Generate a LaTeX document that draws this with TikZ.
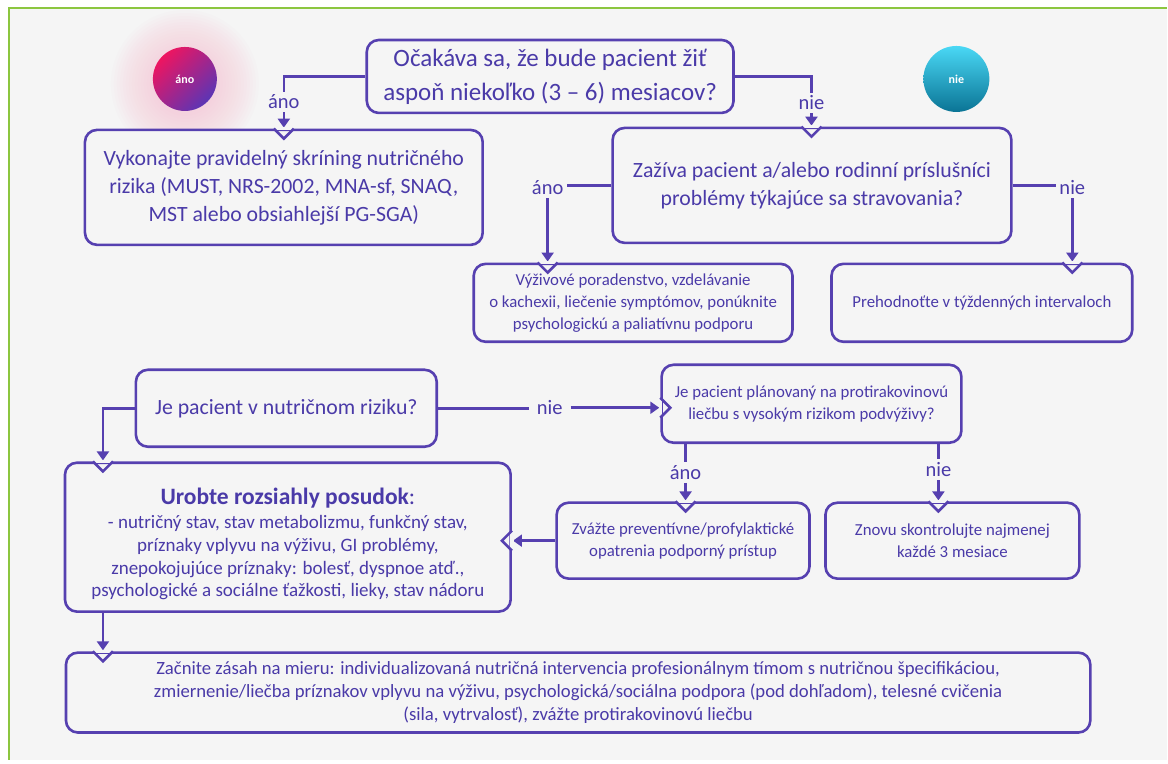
\documentclass[tikz,border=0pt]{standalone}
\usepackage{fontspec}
\setmainfont{Carlito}
\usetikzlibrary{arrows.meta,positioning}
\definecolor{lilac}{HTML}{5640B0}
\definecolor{ink}{HTML}{4A3AA8}
\definecolor{paper}{HTML}{F5F5F5}
\definecolor{frame}{HTML}{8CC63F}
\definecolor{pinkglow}{HTML}{F4B8CE}
\definecolor{anopink}{HTML}{EE1560}
\definecolor{anopurple}{HTML}{5B35B5}
\definecolor{nietop}{HTML}{4AD8F5}
\definecolor{niebot}{HTML}{0A7495}
\begin{document}
\begin{tikzpicture}[x=1pt, y=-1pt,
    box/.style={draw=lilac, line width=2.6pt, rounded corners=12pt, fill=paper,
      text=ink, align=center, inner sep=0pt},
    big/.style={font=\fontsize{25}{34}\selectfont},
    mid/.style={font=\fontsize{21.8}{28}\selectfont},
    small/.style={font=\fontsize{16.8}{22}\selectfont},
    lab/.style={text=ink, font=\fontsize{20.5}{22}\selectfont, fill=paper, inner sep=3pt},
    line/.style={draw=lilac, line width=2.6pt},
    arr/.style={line, -{Triangle[width=12pt,length=9pt]}, shorten >=1pt},
    notchdown/.pic={\fill[paper] (-9,-1.6) rectangle (9,1.6);
      \draw[line, line join=miter] (-10,0) -- (0,10) -- (10,0);},
    notchright/.pic={\fill[paper] (-1.6,-9) rectangle (1.6,9);
      \draw[line, line join=miter] (0,-10) -- (10,0) -- (0,10);},
    notchleft/.pic={\fill[paper] (-1.6,-9) rectangle (1.6,9);
      \draw[line, line join=miter] (0,-10) -- (-10,0) -- (0,10);}]

  % background and frame
  \fill[white] (0,0) rectangle (1168,764);
  \fill[paper] (9,8) rectangle (1168,760);
  \draw[frame, line width=1.5pt] (9,760) -- (9,8) -- (1168,8);
  \useasboundingbox (0,0) rectangle (1168,764);

  % the two round badges
  \foreach \r in {74,71,...,32}
    \fill[pinkglow, opacity=0.045] (185,84) circle (\r);
  \shade[top color=anopink, bottom color=anopurple, shading angle=45] (185,79) circle (32);
  \node[text=white, font=\bfseries\fontsize{12}{14}\selectfont] (anobadge) at (185,79) {áno};
  \shade[top color=nietop, bottom color=niebot] (957,79) circle (33);
  \node[text=white, font=\bfseries\fontsize{12}{14}\selectfont] (niebadge) at (957,79) {nie};

  % boxes
  \node[box, big, minimum width=367, minimum height=73] (q1) at (550.5,76.5)
    {Očakáva sa, že bude pacient žiť\\aspoň niekoľko (3 – 6) mesiacov?};
  \node[box, mid, minimum width=398, minimum height=115] (screen) at (284,187.5)
    {Vykonajte pravidelný skríning nutričného\\rizika (MUST, NRS-2002, MNA-sf, SNAQ,\\MST alebo obsiahlejší PG-SGA)};
  \node[box, mid, minimum width=399, minimum height=115] (q2) at (812.5,185.5)
    {Zažíva pacient a/alebo rodinní príslušníci\\problémy týkajúce sa stravovania?};
  \node[box, small, minimum width=319, minimum height=78] (advice) at (633.5,303)
    {Výživové poradenstvo, vzdelávanie\\o kachexii, liečenie symptómov, ponúknite\\psychologickú a paliatívnu podporu};
  \node[box, small, minimum width=301, minimum height=78] (weekly) at (982.5,303)
    {Prehodnoťte v týždenných intervaloch};
  \node[box, mid, minimum width=301, minimum height=77] (q3) at (286.5,408.5)
    {Je pacient v nutričnom riziku?};
  \node[box, small, minimum width=300, minimum height=78] (q4) at (812,404)
    {Je pacient plánovaný na protirakovinovú\\liečbu s vysokým rizikom podvýživy?};
  \node[box, font=\fontsize{19}{23}\selectfont, minimum width=446, minimum height=149] (assess) at (288,537.5)
    {\rule{0pt}{30pt}{\fontsize{23.5}{28}\selectfont\textbf{Urobte rozsiahly posudok}:}\\[1pt]- nutričný stav, stav metabolizmu, funkčný stav,\\príznaky vplyvu na výživu, GI problémy,\\znepokojujúce príznaky: bolesť, dyspnoe atď.,\\psychologické a sociálne ťažkosti, lieky, stav nádoru};
  \node[box, small, minimum width=253, minimum height=76] (prevent) at (683.5,541)
    {Zvážte preventívne/profylaktické\\opatrenia podporný prístup};
  \node[box, small, minimum width=254, minimum height=76] (recheck) at (953,541)
    {Znovu skontrolujte najmenej\\každé 3 mesiace};
  \node[box, font=\fontsize{18.7}{23}\selectfont, minimum width=1025, minimum height=80] (start) at (578.5,693)
    {Začnite zásah na mieru: individualizovaná nutričná intervencia profesionálnym tímom s nutričnou špecifikáciou,\\zmiernenie/liečba príznakov vplyvu na výživu, psychologická/sociálna podpora (pod dohľadom), telesné cvičenia\\(sila, vytrvalosť), zvážte protirakovinovú liečbu};

  % labels on the connectors
  \node[lab] (ano1) at (284,102) {áno};
  \node[lab] (nie1) at (812,103) {nie};
  \node[lab] (ano2) at (548,188) {áno};
  \node[lab] (nie2) at (1073,188) {nie};
  \node[lab, inner xsep=8pt] (nie3) at (550,408) {nie};
  \node[lab] (ano3) at (686,473) {áno};
  \node[lab] (nie4) at (939,470) {nie};

  % connectors
  \draw[line] (q1.west) -| (ano1.north);
  \draw[arr] (ano1.south) -- (ano1.south |- screen.north);
  \draw[line] (q1.east) -| (nie1.north);
  \draw[arr] (nie1.south) -- (nie1.south |- q2.north);
  \draw[line] (q2.west) -- (q2.west -| ano2.east);
  \draw[arr] (ano2.south) -- (ano2.south |- advice.north);
  \draw[line] (q2.east) -- (q2.east -| nie2.west);
  \draw[arr] (nie2.south) -- (nie2.south |- weekly.north);
  \draw[line] (q3.east) -- (q3.east -| nie3.west);
  \draw[arr] (nie3.east) -- (nie3.east -| q4.west);
  \coordinate (elbow) at (103,408.5);
  \draw[arr] (q3.west) -- (elbow) -- (elbow |- assess.north);
  \draw[line] (ano3.north |- q4.south) -- (ano3.north);
  \draw[arr] (ano3.south) -- (ano3.south |- prevent.north);
  \draw[line] (nie4.north |- q4.south) -- (nie4.north);
  \draw[arr] (nie4.south) -- (nie4.south |- recheck.north);
  \draw[arr] (prevent.west) -- (prevent.west -| assess.east);
  \draw[arr] (elbow |- assess.south) -- (elbow |- start.north);

  % notches where the arrows come in
  \pic at (ano1.south |- screen.north) {notchdown};
  \pic at (nie1.south |- q2.north) {notchdown};
  \pic at (ano2.south |- advice.north) {notchdown};
  \pic at (nie2.south |- weekly.north) {notchdown};
  \pic at (nie3.east -| q4.west) {notchright};
  \pic at (elbow |- assess.north) {notchdown};
  \pic at (ano3.south |- prevent.north) {notchdown};
  \pic at (nie4.south |- recheck.north) {notchdown};
  \pic at (prevent.west -| assess.east) {notchleft};
  \pic at (elbow |- start.north) {notchdown};
\end{tikzpicture}
\end{document}
